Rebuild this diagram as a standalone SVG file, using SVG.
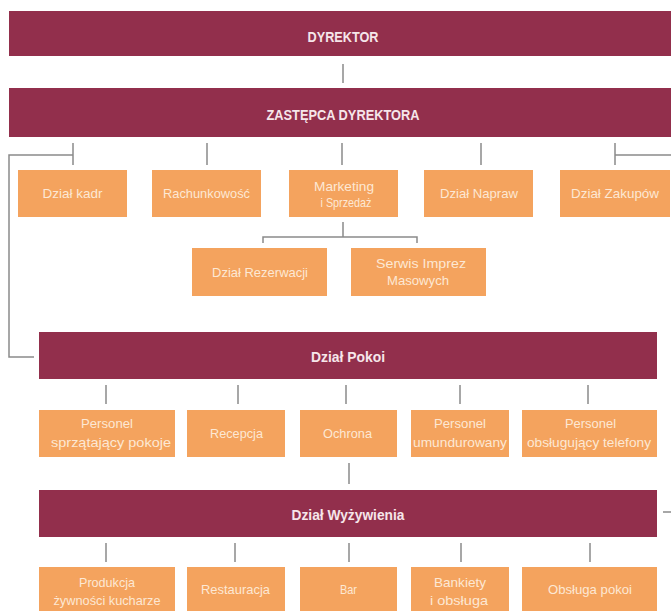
<svg xmlns="http://www.w3.org/2000/svg" width="671" height="611" viewBox="0 0 671 611">
<style>
.bar{fill:#922f4c}
.box{fill:#f4a35e}
.bt{font-family:"Liberation Sans Narrow","Liberation Sans",Arial,sans-serif;font-size:14px;font-weight:bold;fill:#f6e6ea;text-anchor:middle}
.ot{font-family:"Liberation Sans Narrow","Liberation Sans",Arial,sans-serif;font-size:13px;fill:#fde8d4;text-anchor:middle}
.ln{stroke:#8a8a8a;stroke-width:1.5;fill:none}
</style>
<rect width="671" height="611" fill="#ffffff"/>
<g id="connectors">
<line class="ln" x1="343" y1="64" x2="343" y2="83"/>
<line class="ln" x1="73" y1="143" x2="73" y2="165"/>
<line class="ln" x1="207" y1="143" x2="207" y2="165"/>
<line class="ln" x1="342" y1="143" x2="342" y2="165"/>
<line class="ln" x1="481" y1="143" x2="481" y2="165"/>
<line class="ln" x1="615" y1="143" x2="615" y2="165"/>
<polyline class="ln" points="73,155 9,155 9,357 34,357"/>
<line class="ln" x1="615" y1="155" x2="671" y2="155"/>
<polyline class="ln" points="343,222 343,237"/>
<polyline class="ln" points="263,243 263,237 417,237 417,243"/>
<line class="ln" x1="106" y1="385" x2="106" y2="404"/>
<line class="ln" x1="238" y1="385" x2="238" y2="404"/>
<line class="ln" x1="346" y1="385" x2="346" y2="404"/>
<line class="ln" x1="460" y1="385" x2="460" y2="404"/>
<line class="ln" x1="588" y1="385" x2="588" y2="404"/>
<line class="ln" x1="349" y1="463" x2="349" y2="484"/>
<line class="ln" x1="663" y1="512" x2="671" y2="512"/>
<line class="ln" x1="106" y1="543" x2="106" y2="562"/>
<line class="ln" x1="235" y1="543" x2="235" y2="562"/>
<line class="ln" x1="349" y1="543" x2="349" y2="562"/>
<line class="ln" x1="461" y1="543" x2="461" y2="562"/>
<line class="ln" x1="590" y1="543" x2="590" y2="562"/>
</g>
<g id="dyrektor"><rect class="bar" x="9" y="11" width="662" height="45"/><text class="bt" x="343" y="42" textLength="71" lengthAdjust="spacingAndGlyphs">DYREKTOR</text></g>
<g id="zastepca"><rect class="bar" x="9" y="88" width="662" height="49"/><text class="bt" x="343" y="120" textLength="153" lengthAdjust="spacingAndGlyphs">ZASTĘPCA DYREKTORA</text></g>
<g id="kadr"><rect class="box" x="18" y="170" width="109" height="47"/><text class="ot" x="72.5" y="198" textLength="60" lengthAdjust="spacingAndGlyphs">Dział kadr</text></g>
<g id="rachunkowosc"><rect class="box" x="152" y="170" width="109" height="47"/><text class="ot" x="206.5" y="198" textLength="87" lengthAdjust="spacingAndGlyphs">Rachunkowość</text></g>
<g id="marketing"><rect class="box" x="289" y="170" width="109" height="47"/><text class="ot" x="344" y="191" textLength="60" lengthAdjust="spacingAndGlyphs">Marketing</text><text class="ot" x="346" y="207" textLength="51" lengthAdjust="spacingAndGlyphs">i Sprzedaż</text></g>
<g id="napraw"><rect class="box" x="424" y="170" width="109" height="47"/><text class="ot" x="479" y="198" textLength="78" lengthAdjust="spacingAndGlyphs">Dział Napraw</text></g>
<g id="zakupow"><rect class="box" x="560" y="170" width="110" height="47"/><text class="ot" x="615" y="198" textLength="88" lengthAdjust="spacingAndGlyphs">Dział Zakupów</text></g>
<g id="rezerwacji"><rect class="box" x="192" y="248" width="135" height="48"/><text class="ot" x="260" y="277" textLength="96" lengthAdjust="spacingAndGlyphs">Dział Rezerwacji</text></g>
<g id="serwis"><rect class="box" x="351" y="248" width="135" height="48"/><text class="ot" x="421" y="268" textLength="90" lengthAdjust="spacingAndGlyphs">Serwis Imprez</text><text class="ot" x="418" y="285" textLength="62" lengthAdjust="spacingAndGlyphs">Masowych</text></g>
<g id="pokoi"><rect class="bar" x="39" y="332" width="618" height="47"/><text class="bt" x="348" y="362" textLength="74" lengthAdjust="spacingAndGlyphs">Dział Pokoi</text></g>
<g id="sprzatajacy"><rect class="box" x="39" y="410" width="136" height="47"/><text class="ot" x="107" y="428" textLength="52" lengthAdjust="spacingAndGlyphs">Personel</text><text class="ot" x="111" y="447" textLength="120" lengthAdjust="spacingAndGlyphs">sprzątający pokoje</text></g>
<g id="recepcja"><rect class="box" x="187" y="410" width="98" height="47"/><text class="ot" x="236.5" y="438" textLength="53" lengthAdjust="spacingAndGlyphs">Recepcja</text></g>
<g id="ochrona"><rect class="box" x="300" y="410" width="97" height="47"/><text class="ot" x="347.5" y="438" textLength="49" lengthAdjust="spacingAndGlyphs">Ochrona</text></g>
<g id="umundurowany"><rect class="box" x="411" y="410" width="98" height="47"/><text class="ot" x="460" y="428" textLength="52" lengthAdjust="spacingAndGlyphs">Personel</text><text class="ot" x="460" y="447" textLength="94" lengthAdjust="spacingAndGlyphs">umundurowany</text></g>
<g id="telefony"><rect class="box" x="522" y="410" width="135" height="47"/><text class="ot" x="590.5" y="428" textLength="51" lengthAdjust="spacingAndGlyphs">Personel</text><text class="ot" x="589" y="447" textLength="124" lengthAdjust="spacingAndGlyphs">obsługujący telefony</text></g>
<g id="wyzywienia"><rect class="bar" x="39" y="490" width="618" height="47"/><text class="bt" x="348" y="520" textLength="113" lengthAdjust="spacingAndGlyphs">Dział Wyżywienia</text></g>
<g id="produkcja"><rect class="box" x="39" y="567" width="136" height="44"/><text class="ot" x="107" y="587" textLength="56" lengthAdjust="spacingAndGlyphs">Produkcja</text><text class="ot" x="107" y="605" textLength="107" lengthAdjust="spacingAndGlyphs">żywności kucharze</text></g>
<g id="restauracja"><rect class="box" x="187" y="567" width="98" height="44"/><text class="ot" x="235.5" y="594" textLength="69" lengthAdjust="spacingAndGlyphs">Restauracja</text></g>
<g id="bar"><rect class="box" x="300" y="567" width="97" height="44"/><text class="ot" x="348.5" y="594" textLength="17" lengthAdjust="spacingAndGlyphs">Bar</text></g>
<g id="bankiety"><rect class="box" x="411" y="567" width="98" height="44"/><text class="ot" x="460" y="587" textLength="52" lengthAdjust="spacingAndGlyphs">Bankiety</text><text class="ot" x="459" y="605" textLength="58" lengthAdjust="spacingAndGlyphs">i obsługa</text></g>
<g id="obsluga-pokoi"><rect class="box" x="522" y="567" width="135" height="44"/><text class="ot" x="590" y="594" textLength="84" lengthAdjust="spacingAndGlyphs">Obsługa pokoi</text></g>
</svg>
